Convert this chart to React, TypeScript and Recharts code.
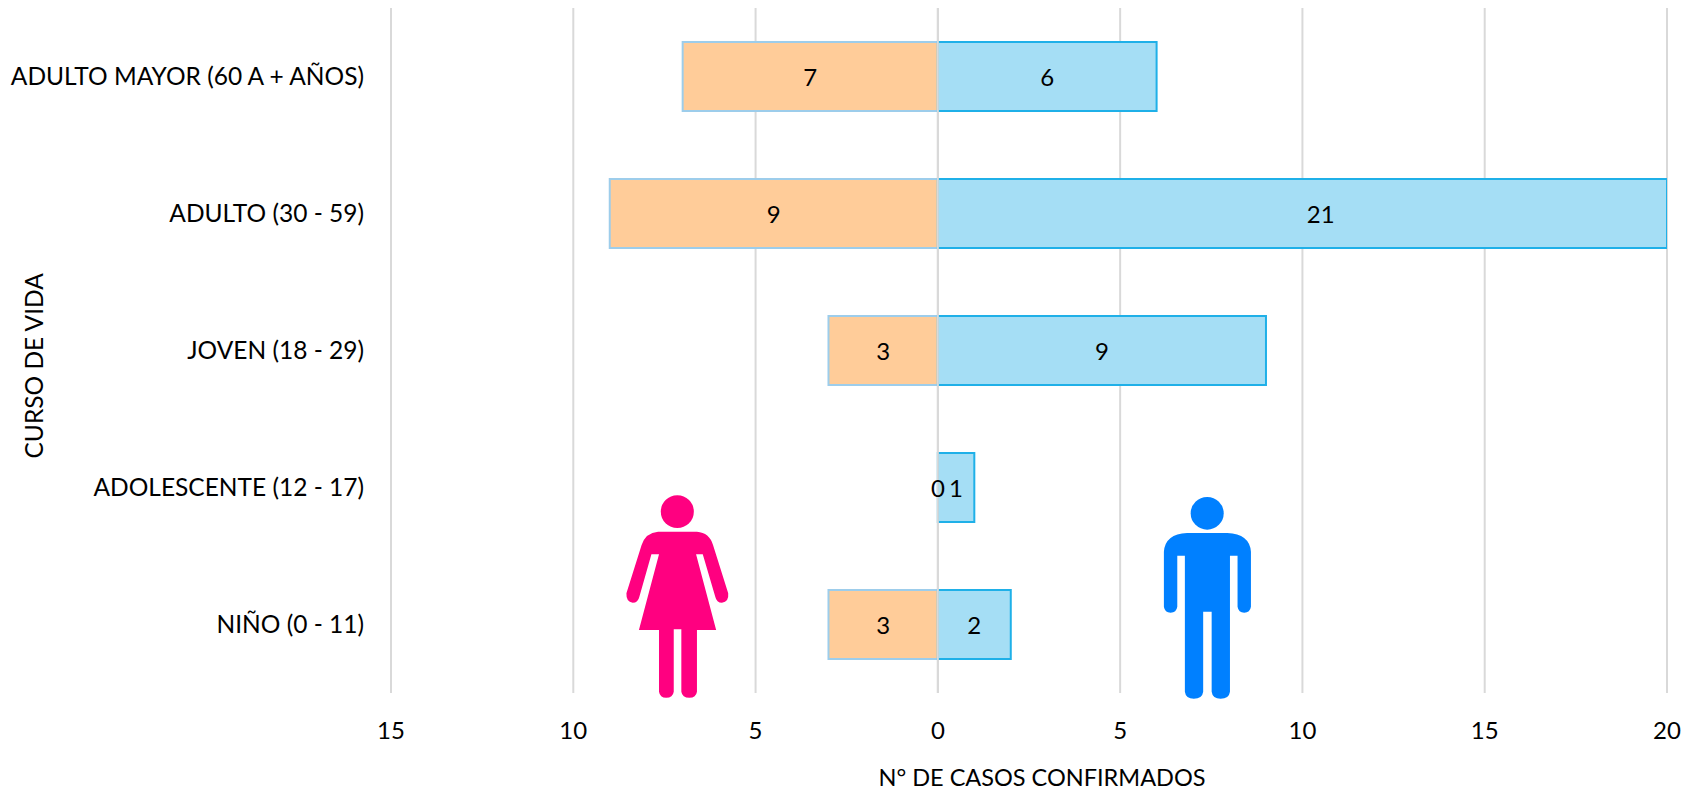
import { BarChart, Bar, XAxis, YAxis, CartesianGrid, LabelList, ReferenceLine } from "recharts";

const categories = [
  "ADULTO MAYOR (60 A + AÑOS)",
  "ADULTO (30 - 59)",
  "JOVEN (18 - 29)",
  "ADOLESCENTE (12 - 17)",
  "NIÑO (0 - 11)",
];
const mujeres = [7, 9, 3, 0, 3];
const hombres = [6, 21, 9, 1, 2];
const xTicks = [-15, -10, -5, 0, 5, 10, 15, 20];
const xMax = 20;

const data = categories.map((name, i) => ({
  name,
  mujeres: -mujeres[i],
  hombres: hombres[i],
}));

const font = "Lato, 'Open Sans', sans-serif";
const abs = (v: any) => String(Math.abs(Number(v)));

function labelText(cx: number, cy: number, text: string) {
  return (
    <text
      x={cx}
      y={cy}
      textAnchor="middle"
      dominantBaseline="central"
      fontSize={24}
      fontFamily={font}
      fill="#000"
    >
      {text}
    </text>
  );
}

// la barra de 21 se corta en 20, pero su etiqueta sigue centrada en el valor real
function BarLabel(props: any) {
  const { x, y, width, height, value } = props;
  const v = Number(value);
  const w = v > xMax ? (width / xMax) * v : width;
  return labelText(x + w / 2, y + height / 2, abs(v));
}

// el 0 de mujeres no tiene ancho: se dibuja sobre el inicio de la barra de hombres
function ZeroLabel(props: any) {
  const { x, y, height, value } = props;
  if (Number(value) !== 0) return null;
  return labelText(x, y + height / 2, "0");
}

// pictogramas: coordenadas tomadas del recorte ampliado
function Figures() {
  return (
    <svg
      width={1691}
      height={794}
      style={{ position: "absolute", left: 0, top: 0, pointerEvents: "none" }}
    >
      <g transform="translate(580 430) scale(0.4464 0.3333)">
        <ellipse cx={218} cy={245} rx={37} ry={49} fill="#FF0080" />
        <path
          fill="#FF0080"
          d="M175 305 L262 305 Q290 308 298 345 L332 490 Q334 516 318 518 Q306 518 303 500 L275 373 L260 373 L305 600 L262 600 L262 785 Q260 803 245 803 Q229 803 227 785 L227 598 L210 598 L210 785 Q208 803 193 803 Q179 803 177 785 L177 600 L132 600 L177 373 L160 373 L133 500 Q130 518 118 518 Q103 516 104 490 L138 345 Q147 308 175 305 Z"
        />
        <ellipse cx={1405} cy={250} rx={37} ry={49} fill="#0080FF" />
        <path
          fill="#0080FF"
          d="M1360 309 L1450 309 Q1500 312 1503 365 L1503 530 Q1501 548 1488 548 Q1475 548 1473 530 L1473 377 L1456 377 L1456 785 Q1454 806 1435 806 Q1417 806 1415 785 L1415 545 L1396 545 L1396 785 Q1394 806 1375 806 Q1357 806 1355 785 L1355 377 L1338 377 L1338 530 Q1336 548 1323 548 Q1310 548 1308 530 L1308 365 Q1311 312 1360 309 Z"
        />
      </g>
    </svg>
  );
}

export default function App() {
  return (
    <div style={{ position: "absolute", left: 0, top: 0, width: 1691, height: 794, background: "#fff" }}>
      <BarChart
        width={1691}
        height={794}
        data={data}
        layout="vertical"
        stackOffset="sign"
        barSize={69}
        margin={{ top: 8, right: 24, bottom: 0, left: 0 }}
      >
        <CartesianGrid horizontal={false} stroke="#D9D9D9" strokeWidth={2} />
        <XAxis
          type="number"
          domain={[-15, xMax]}
          ticks={xTicks}
          allowDataOverflow
          tickFormatter={abs}
          axisLine={false}
          tickLine={false}
          height={101}
          tickMargin={23}
          tick={{ fontSize: 24, fill: "#000", fontFamily: font }}
          label={{
            value: "N° DE CASOS CONFIRMADOS",
            position: "insideBottom",
            offset: 8,
            dx: 13,
            style: { fontSize: 23.5, fill: "#000", fontFamily: font },
          }}
        />
        <YAxis
          type="category"
          dataKey="name"
          width={391}
          axisLine={false}
          tickLine={false}
          tickMargin={21}
          tick={{ fontSize: 24.5, fill: "#000", fontFamily: font }}
          label={{
            value: "CURSO DE VIDA",
            angle: -90,
            position: "insideLeft",
            offset: 34,
            dy: 108,
            style: { fontSize: 24.5, fill: "#000", fontFamily: font },
          }}
        />
        <Bar dataKey="mujeres" stackId="a" fill="#FFCC99" stroke="#9DCDEB" strokeWidth={2} isAnimationActive={false}>
          <LabelList dataKey="mujeres" content={BarLabel} />
        </Bar>
        <Bar dataKey="hombres" stackId="a" fill="#A5DEF5" stroke="#1FB0E8" strokeWidth={2} isAnimationActive={false}>
          <LabelList dataKey="hombres" content={BarLabel} />
          <LabelList dataKey="mujeres" content={ZeroLabel} />
        </Bar>
        <ReferenceLine x={0} stroke="#D9D9D9" strokeWidth={2} />
      </BarChart>
      <Figures />
    </div>
  );
}
